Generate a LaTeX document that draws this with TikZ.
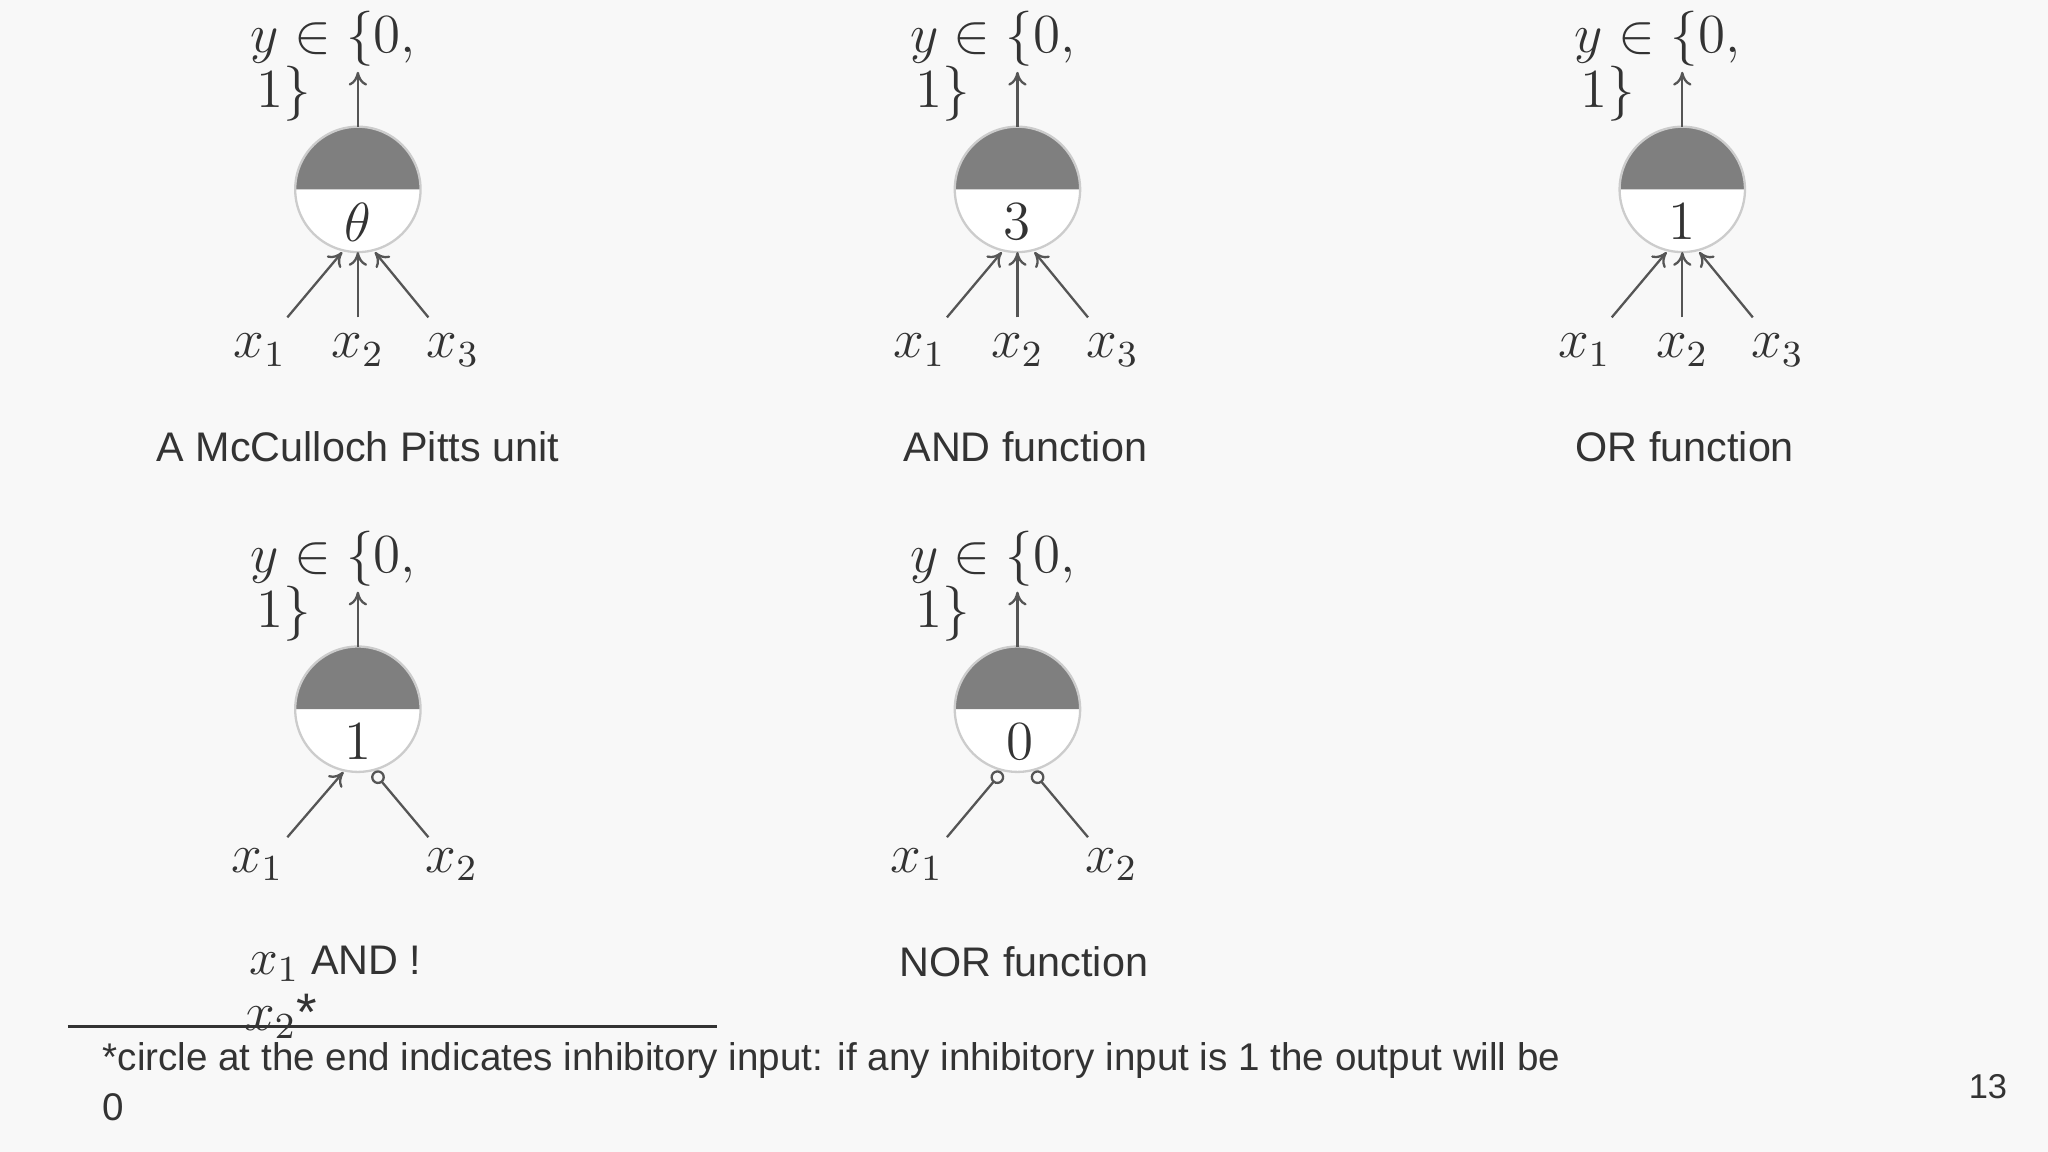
\documentclass[tikz,border=0pt]{standalone}
\usepackage{fontspec}
\setmainfont{Liberation Sans}
\usetikzlibrary{arrows.meta}
\definecolor{bg}{HTML}{F8F8F8}
\definecolor{ink}{HTML}{333333}
\definecolor{linec}{HTML}{555555}
\definecolor{halfgray}{HTML}{7F7F7F}
\tikzset{
  lab/.style={font=\fontsize{11.5}{13}\selectfont, text=ink, inner sep=0pt},
  captxt/.style={font=\fontsize{9}{11}\selectfont, text=ink, inner sep=0pt},
  inarr/.style={draw=linec, line width=0.5pt, -{To[length=3pt,width=4pt]}},
  inhib/.style={draw=linec, line width=0.5pt, -{Circle[open,length=3pt,width=3pt]}},
}
\newcommand{\neuron}[3]{%
  \fill[white] (#1,#2) circle (48);
  \fill[halfgray] (#1-48,#2) arc (180:360:48) -- cycle;
  \draw[black!20, line width=0.5pt] (#1,#2) circle (48);
  \coordinate (top#3) at (#1,#2-48);
  \coordinate (out#3) at (#1,#2-90);
  \draw[inarr] (top#3) -- (out#3);
  \node[lab] (ya#3) at (#1-19,#2-115) {$y\in\{0,$};
  \node[lab] (yb#3) at (#1-57,#2-73) {$1\}$};
}
\begin{document}
\begin{tikzpicture}[x=0.01cm,y=-0.01cm]
\fill[bg] (0,0) rectangle (1568,882);
\useasboundingbox (0,0) rectangle (1568,882);
\foreach \cx/\th/\n in {274/\theta/a,779/3/b,1288/1/c}{
  \neuron{\cx}{145}{\n}
  \node[lab] at (\cx,170) {$\th$};
  \coordinate (s1\n) at (\cx-54,243);
  \coordinate (s2\n) at (\cx,243);
  \coordinate (s3\n) at (\cx+54,243);
  \coordinate (e1\n) at (\cx-12,193);
  \coordinate (e2\n) at (\cx,193);
  \coordinate (e3\n) at (\cx+13,193);
  \draw[inarr] (s1\n) -- (e1\n);
  \draw[inarr] (s2\n) -- (e2\n);
  \draw[inarr] (s3\n) -- (e3\n);
  \node[lab] at (\cx-75,268) {$x_1$};
  \node[lab] at (\cx,268) {$x_2$};
  \node[lab] at (\cx+73,268) {$x_3$};
}
\node[captxt] (c1) at (274,342) {A McCulloch Pitts unit};
\node[captxt] (c2) at (785,342) {AND function};
\node[captxt] (c3) at (1290,342) {OR function};
\neuron{274}{543}{d}
\node[lab] at (274,568) {$1$};
\coordinate (d1s) at (220,641); \coordinate (d1e) at (263,591);
\coordinate (d2s) at (328,641); \coordinate (d2e) at (286,591);
\draw[inarr] (d1s) -- (d1e);
\draw[inhib] (d2s) -- (d2e);
\node[lab] at (197,662) {$x_1$};
\node[lab] at (346,662) {$x_2$};
\neuron{779}{543}{e}
\node[lab] at (781,568) {$0$};
\coordinate (e1s) at (725,641); \coordinate (e1e) at (767,591);
\coordinate (e2s) at (833,641); \coordinate (e2e) at (791,591);
\draw[inhib] (e1s) -- (e1e);
\draw[inhib] (e2s) -- (e2e);
\node[lab] at (702,662) {$x_1$};
\node[lab] at (851,662) {$x_2$};
\node[captxt, anchor=west] (c4) at (190,738) {\fontsize{11}{13}\selectfont$x_1$\fontsize{9}{11}\selectfont\ AND !};
\node[lab] (c4b) at (215,778) {$x_2$*};
\node[captxt] (c5) at (784,736) {NOR function};
\coordinate (la) at (52,786); \coordinate (lb) at (549,786);
\draw[ink, line width=0.5pt] (la) -- (lb);
\node[captxt, anchor=west, font=\fontsize{8.4}{10}\selectfont] (fn) at (78,812) {*circle at the end indicates inhibitory input: if any inhibitory input is 1 the output will be};
\node[captxt, anchor=west, font=\fontsize{8.4}{10}\selectfont] (fn2) at (78,848) {0};
\node[font=\fontsize{7.5}{9}\selectfont, text=ink] (pg) at (1522,832) {13};
\end{tikzpicture}
\end{document}
